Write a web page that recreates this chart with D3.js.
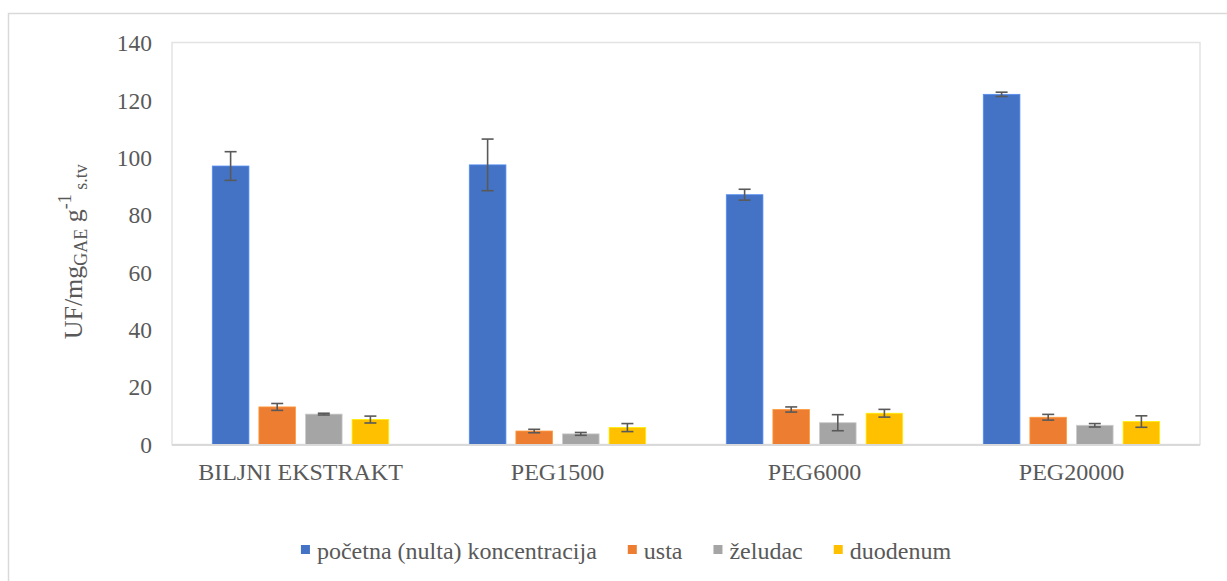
<!DOCTYPE html>
<html>
<head>
<meta charset="utf-8">
<script src="https://cdn.jsdelivr.net/npm/d3@7"></script>
<style>
  html, body { margin: 0; padding: 0; background: #fff; }
  svg { display: block; }
  svg text { font-family: "Liberation Serif", "Times New Roman", serif; }
</style>
</head>
<body>
<svg id="chart" width="1227" height="581"></svg>
<script>
const categories = ["BILJNI EKSTRAKT", "PEG1500", "PEG6000", "PEG20000"];
const seriesNames = ["početna (nulta) koncentracija", "usta", "želudac", "duodenum"];
const seriesColors = ["#4472C4", "#ED7D31", "#A5A5A5", "#FFC000"];
// values per series, in category order
const pocetna  = [97.1, 97.5, 87.1, 122.1];
const usta     = [13.1, 4.7, 12.2, 9.5];
const zeludac  = [10.6, 3.7, 7.6, 6.7];
const duodenum = [8.7, 5.9, 10.9, 8.0];
// error (± standard deviation)
const pocetnaErr  = [5.0, 9.0, 1.9, 0.75];
const ustaErr     = [1.2, 0.6, 0.9, 1.0];
const zeludacErr  = [0.3, 0.5, 2.8, 0.6];
const duodenumErr = [1.2, 1.4, 1.35, 2.0];
const yTicks = [0, 20, 40, 60, 80, 100, 120, 140];

const seriesValues = [pocetna, usta, zeludac, duodenum];
const seriesErrors = [pocetnaErr, ustaErr, zeludacErr, duodenumErr];

const FONT = "Liberation Serif";
const svg = d3.select("#chart");
const textColor = "#595959";

// outer chart border
svg.append("rect").attr("x", 8.5).attr("y", 13.5).attr("width", 1400).attr("height", 800)
  .attr("fill", "none").attr("stroke", "#d9d9d9").attr("stroke-width", 1.5);

const plot = { left: 172, right: 1200, top: 43, bottom: 444.5 };

const x0 = d3.scaleBand().domain(categories).range([plot.left, plot.right]).paddingInner(0).paddingOuter(0);
const groupPad = 40.3;
const x1 = d3.scaleBand().domain(d3.range(seriesNames.length))
  .range([groupPad, x0.bandwidth() - groupPad]).paddingInner(0.214).paddingOuter(0);
const y = d3.scaleLinear().domain([0, 140]).range([plot.bottom, plot.top]);

// plot area border
svg.append("rect").attr("x", plot.left).attr("y", plot.top - 0.5)
  .attr("width", plot.right - plot.left).attr("height", plot.bottom - plot.top + 0.5)
  .attr("fill", "none").attr("stroke", "#e3e3e3").attr("stroke-width", 1.5);

// Y axis labels
const yAxis = d3.axisLeft(y).tickValues(yTicks).tickSize(0).tickPadding(0);
const yg = svg.append("g").attr("transform", `translate(${plot.left - 20},0)`).call(yAxis)
  .attr("font-family", FONT);
yg.select(".domain").remove();
yg.selectAll("text").attr("fill", textColor).style("font-size", "23.5px")
  .style("font-family", FONT).attr("dy", "0.33em");

// X axis
const xAxis = d3.axisBottom(x0).tickSize(0).tickPadding(0);
const xg = svg.append("g").attr("transform", `translate(0,${plot.bottom})`).call(xAxis)
  .attr("font-family", FONT);
xg.select(".domain").remove();
xg.selectAll("text").attr("fill", textColor).style("font-size", "24px")
  .style("font-family", FONT).attr("y", 35.5).attr("dy", 0);

// bars
const groups = svg.append("g").selectAll("g").data(categories).join("g")
  .attr("transform", d => `translate(${x0(d)},0)`);

groups.each(function(cat, ci) {
  const g = d3.select(this);
  seriesNames.forEach((s, si) => {
    const v = seriesValues[si][ci];
    const e = seriesErrors[si][ci];
    const bx = x1(si);
    const bw = x1.bandwidth();
    g.append("rect").attr("x", bx).attr("y", y(v)).attr("width", bw)
      .attr("height", y(0) - y(v)).attr("fill", seriesColors[si])
      .attr("stroke", d3.color(seriesColors[si]).brighter(0.6)).attr("stroke-width", 0.8);
    const cx = bx + bw / 2;
    const capW = 6;
    const eg = g.append("g").attr("stroke", "#595959").attr("stroke-width", 1.6);
    eg.append("line").attr("x1", cx).attr("x2", cx).attr("y1", y(v + e)).attr("y2", y(v - e));
    eg.append("line").attr("x1", cx - capW).attr("x2", cx + capW).attr("y1", y(v + e)).attr("y2", y(v + e));
    eg.append("line").attr("x1", cx - capW).attr("x2", cx + capW).attr("y1", y(v - e)).attr("y2", y(v - e));
  });
});

// baseline axis line
svg.append("line").attr("x1", plot.left).attr("x2", plot.right)
  .attr("y1", plot.bottom + 0.5).attr("y2", plot.bottom + 0.5)
  .attr("stroke", "#d9d9d9").attr("stroke-width", 1.8);

// Y axis title
const title = svg.append("text")
  .attr("transform", `translate(82,${(plot.top + plot.bottom) / 2 + 8}) rotate(-90)`)
  .attr("text-anchor", "middle").attr("fill", textColor)
  .style("font-family", FONT).style("font-size", "26px");
title.append("tspan").text("UF/mg");
title.append("tspan").text("GAE").attr("dy", 5).style("font-size", "18px");
title.append("tspan").text(" g").attr("dy", -5);
title.append("tspan").text("-1").attr("dy", -11).style("font-size", "18px");
title.append("tspan").text(" s.tv").attr("dy", 16).style("font-size", "18px");

// Legend
const legend = svg.append("g");
const legendY = 559;
const sq = 9, gapSq = 7, gapItem = 31;
let cursor = 0;
seriesNames.forEach((s, i) => {
  const it = legend.append("g");
  it.append("rect").attr("x", 0).attr("y", -14).attr("width", sq).attr("height", sq).attr("fill", seriesColors[i]);
  const t = it.append("text").attr("x", sq + gapSq).attr("y", 0).attr("fill", textColor)
    .style("font-family", FONT).style("font-size", "24px").text(s);
  const w = sq + gapSq + t.node().getComputedTextLength();
  it.attr("transform", `translate(${cursor},${legendY})`);
  cursor += w + gapItem;
});
const totalW = cursor - gapItem;
legend.attr("transform", `translate(${626 - totalW / 2},0)`);
</script>
</body>
</html>
